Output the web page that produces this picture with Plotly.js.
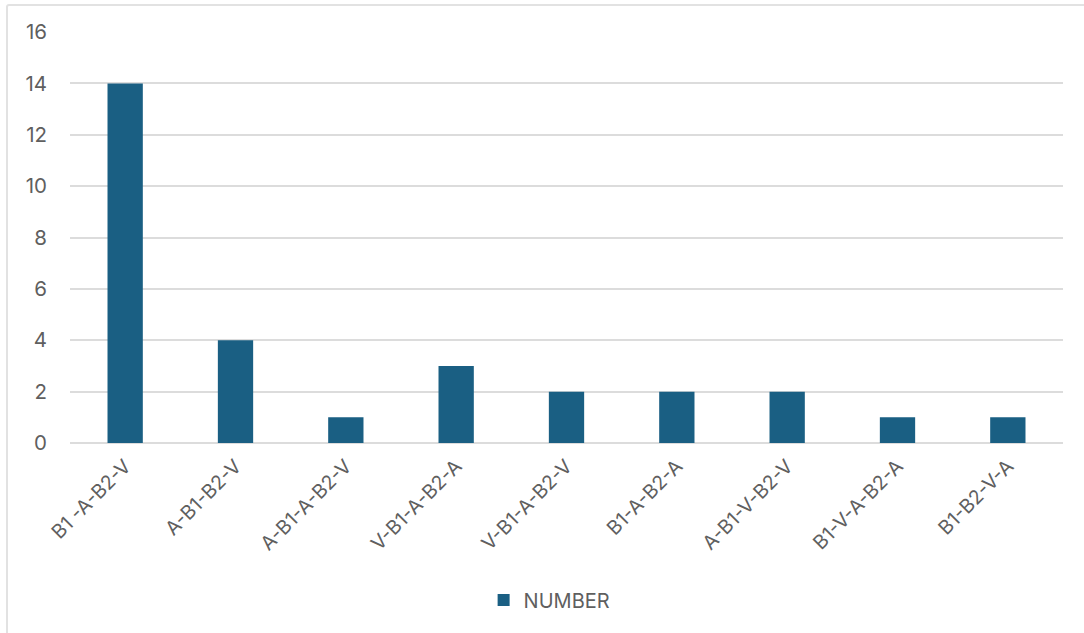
<!DOCTYPE html>
<html>
<head>
<meta charset="utf-8">
<script src="https://cdn.plot.ly/plotly-3.0.1.min.js"></script>
<style>
  html, body { margin: 0; padding: 0; background: #ffffff; }
  #wrap { position: relative; width: 1084px; height: 633px; overflow: hidden; }
  #frame { position: absolute; left: 6px; top: 4px; width: 1200px; height: 800px;
           border: 2px solid #e2e2e2; border-radius: 3px; box-sizing: border-box; pointer-events: none; }
  #chart { position: absolute; left: 0; top: 0; width: 1084px; height: 633px; }
</style>
</head>
<body>
<div id="wrap">
  <div id="chart"></div>
  <div id="frame"></div>
</div>
<script>
const categories = ["B1 -A-B2-V", "A-B1-B2-V", "A-B1-A-B2-V", "V-B1-A-B2-A", "V-B1-A-B2-V", "B1-A-B2-A", "A-B1-V-B2-V", "B1-V-A-B2-A", "B1-B2-V-A"];
const numberValues = [14, 4, 1, 3, 2, 2, 2, 1, 1];
const yTicks = [0, 2, 4, 6, 8, 10, 12, 14, 16];

const fontFam = "Inter, 'Open Sans', sans-serif";
const textColor = "#5f5f5f";

const trace = {
  type: "bar",
  x: categories,
  y: numberValues,
  name: "NUMBER",
  marker: { color: "#1a5f83" },
  hoverinfo: "x+y"
};

const layout = {
  width: 1084,
  height: 633,
  margin: { l: 70, r: 21, t: 32, b: 190 },
  paper_bgcolor: "rgba(0,0,0,0)",
  plot_bgcolor: "#ffffff",
  bargap: 0.68,
  showlegend: true,
  legend: {
    orientation: "h",
    x: 0.483, xanchor: "center",
    y: -0.382, yanchor: "middle",
    font: { family: fontFam, size: 20, color: textColor }
  },
  xaxis: {
    type: "category",
    tickangle: -45,
    tickfont: { family: fontFam, size: 19.5, color: textColor },
    showgrid: false,
    showline: false,
    zeroline: false,
    ticks: "",
    ticklabelstandoff: 7,
    fixedrange: true
  },
  yaxis: {
    range: [0, 16],
    tickvals: yTicks,
    ticktext: yTicks.map(String),
    tickfont: { family: fontFam, size: 20.5, color: textColor },
    showgrid: true,
    gridcolor: "#dcdcdc",
    gridwidth: 2,
    zeroline: true,
    zerolinecolor: "#dcdcdc",
    zerolinewidth: 2,
    showline: false,
    ticks: "",
    ticklabelstandoff: 22,
    fixedrange: true
  }
};

Plotly.newPlot("chart", [trace], layout, { displayModeBar: false, staticPlot: true });
</script>
</body>
</html>
